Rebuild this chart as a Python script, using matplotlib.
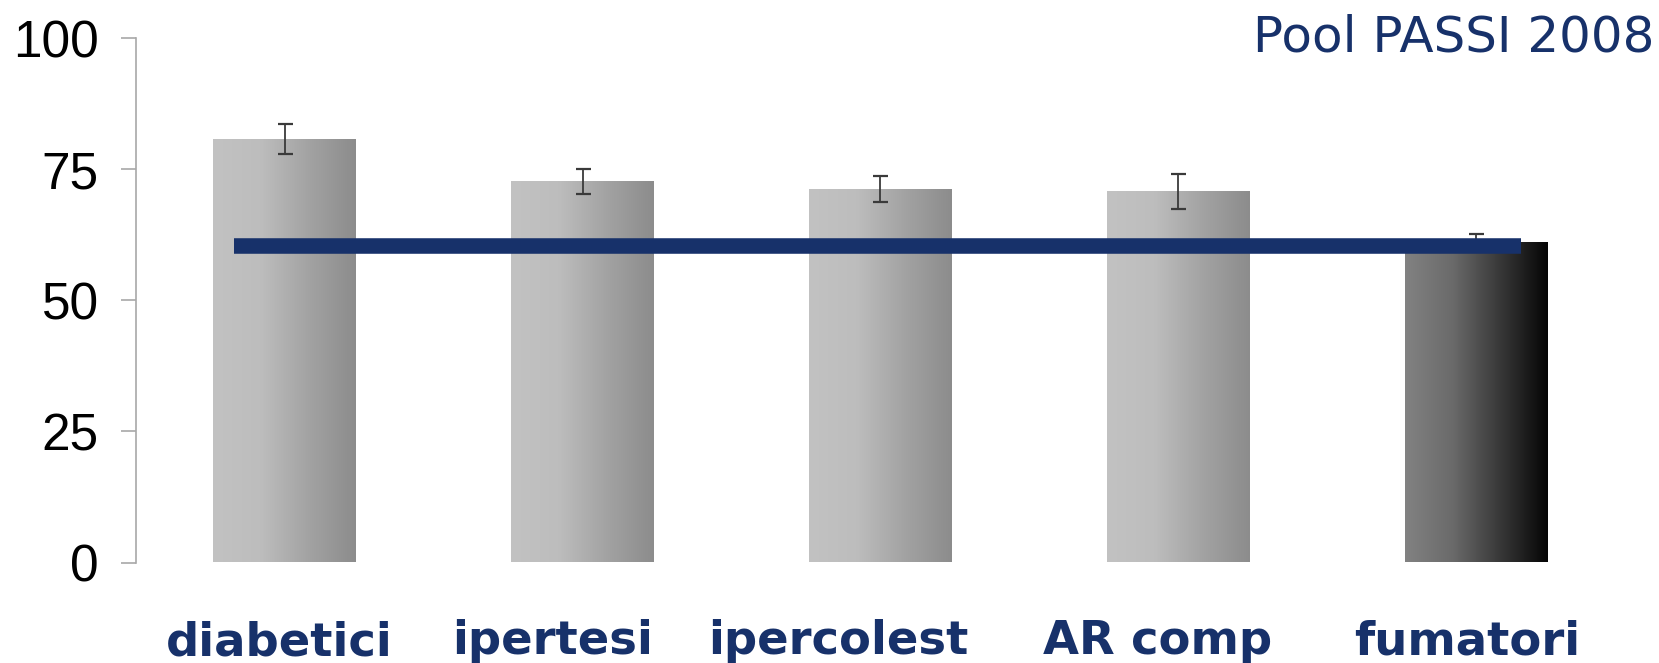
import numpy as np
import matplotlib
matplotlib.use("Agg")
import matplotlib.pyplot as plt
from matplotlib.colors import LinearSegmentedColormap

# ---- data ----
categories = ["diabetici", "ipertesi", "ipercolest", "AR comp", "fumatori"]
values = [80.8, 72.7, 71.2, 70.8, 61.2]
errors = [2.9, 2.4, 2.45, 3.4, 1.4]
pool_value = 60.45
yticks = [0, 25, 50, 75, 100]
title_text = "Pool PASSI 2008"

# ---- style ----
navy = "#17316a"
light_cmap = LinearSegmentedColormap.from_list("light", ["#c2c2c2", "#bdbdbd", "#a3a3a3", "#8c8c8c"])
dark_cmap = LinearSegmentedColormap.from_list("dark", ["#828282", "#6a6a6a", "#383838", "#050505"])

W, H = 1659, 663
fig = plt.figure(figsize=(W / 100, H / 100), dpi=100)
ax = fig.add_axes([136 / W, 1 - 562.5 / H, (1625 - 136) / W, (562.5 - 38.3) / H])

x = np.arange(len(categories))
bar_w = 0.48
bars = ax.bar(x, values, width=bar_w, facecolor="none", edgecolor="none", zorder=2)

grad = np.linspace(0, 1, 256).reshape(1, -1)
for i, b in enumerate(bars):
    cmap = dark_cmap if i == len(categories) - 1 else light_cmap
    x0, w, h = b.get_x(), b.get_width(), b.get_height()
    im = ax.imshow(grad, cmap=cmap, extent=[x0, x0 + w, 0, h], aspect="auto",
                   interpolation="bicubic", zorder=2)
    im.set_clip_path(b)

ax.errorbar(x, values, yerr=errors, fmt="none", ecolor="#3a3a3a", elinewidth=1.3,
            capsize=5.4, capthick=1.6, zorder=3)

ax.plot([-0.17, 4.15], [pool_value, pool_value], color=navy, lw=11.2,
        solid_capstyle="butt", zorder=4)

ax.set_xlim(-0.5, 4.5)
ax.set_ylim(0, 100)
ax.set_yticks(yticks)
ax.set_xticks([])
for s in ["top", "right", "bottom"]:
    ax.spines[s].set_visible(False)
ax.spines["left"].set_color("#a8a8a8")
ax.spines["left"].set_linewidth(1.2)
ax.tick_params(axis="y", direction="out", length=10.8, width=1.2, color="#a8a8a8",
               pad=16, labelsize=37, labelcolor="black")
for lbl in ax.get_yticklabels():
    lbl.set_family(["Liberation Sans", "DejaVu Sans"])

# category labels (placed individually as in the reference)
label_x = [-0.02, 0.90, 1.86, 2.93, 3.97]
label_y = [0.012, 0.013, 0.013, 0.013, 0.013]
for cx, cy, name in zip(label_x, label_y, categories):
    xf = (136 + (cx + 0.5) * (1625 - 136) / 5) / W
    fig.text(xf, cy, name, ha="center", va="baseline", fontsize=33.5,
             fontweight="bold", color=navy, family="DejaVu Sans")

fig.text(1654 / W, 1 - 51.7 / H, title_text, ha="right", va="baseline",
         fontsize=36, color=navy, family="DejaVu Sans")

fig.savefig("out.png", dpi=100)
